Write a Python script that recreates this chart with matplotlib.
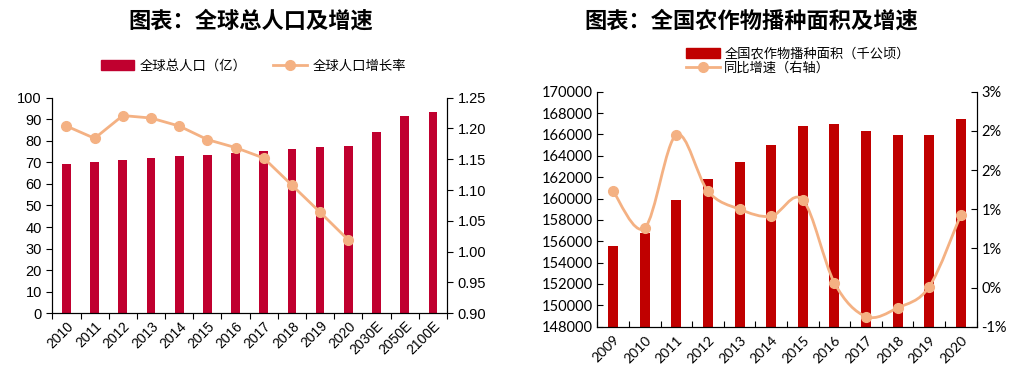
import matplotlib.pyplot as plt
import numpy as np
from matplotlib.path import Path
from matplotlib.patches import PathPatch
from matplotlib.lines import Line2D
from matplotlib.patches import Patch

plt.rcParams['font.family'] = ['Liberation Sans', 'Noto Sans CJK SC', 'DejaVu Sans']

# Left chart data
pop_years = ['2010', '2011', '2012', '2013', '2014', '2015', '2016', '2017',
             '2018', '2019', '2020', '2030E', '2050E', '2100E']
pop_total = [69.2, 70.0, 71.0, 71.9, 72.8, 73.4, 74.3, 75.3, 76.1, 77.0, 77.7,
             83.9, 91.4, 93.4]
pop_growth = [1.204, 1.184, 1.221, 1.217, 1.204, 1.182, 1.169, 1.152, 1.108,
              1.064, 1.019]

# Right chart data
crop_years = ['2009', '2010', '2011', '2012', '2013', '2014', '2015', '2016',
              '2017', '2018', '2019', '2020']
crop_area = [155600, 156800, 159900, 161800, 163450, 164990, 166820, 166940,
             166350, 165900, 165930, 167490]
crop_growth = [1.23, 0.76, 1.95, 1.23, 1.00, 0.91, 1.12, 0.06, -0.37, -0.26,
               0.01, 0.93]

bar_red = '#C0002F'
bar_red2 = '#C00000'
line_orange = '#F4B183'
cjk = ['Noto Sans CJK SC', 'DejaVu Sans']

fig = plt.figure(figsize=(10.2, 3.9), dpi=100)

# ---------- left chart ----------
ax1 = fig.add_axes([0.0513, 0.1967, 0.3869, 0.5528])
x = np.arange(len(pop_years))
ax1.bar(x, pop_total, width=0.31, color=bar_red, zorder=2)
ax1.set_xlim(-0.5, len(pop_years) - 0.5)
ax1.set_ylim(0, 100)
ax1.set_yticks(np.arange(0, 101, 10))
ax1.set_xticks(np.arange(-0.5, len(pop_years), 1.0))
ax1.set_xticklabels([])
ax1.set_xticks(x, minor=True)
ax1.set_xticklabels(pop_years, minor=True, rotation=45, ha='right',
                    rotation_mode='anchor', fontsize=10)
ax1.tick_params(axis='x', which='minor', length=0, pad=4)
ax1.tick_params(axis='x', which='major', direction='out', length=4)
ax1.tick_params(axis='y', direction='out', length=4, labelsize=10.5)
ax1.spines['top'].set_visible(False)

ax1r = ax1.twinx()
ax1r.plot(x[:len(pop_growth)], pop_growth, color=line_orange, lw=2,
          marker='o', ms=7, zorder=3)
ax1r.set_ylim(0.90, 1.25)
ax1r.set_yticks(np.arange(0.90, 1.251, 0.05))
ax1r.yaxis.set_major_formatter(plt.FormatStrFormatter('%.2f'))
ax1r.tick_params(axis='y', direction='out', length=4, labelsize=10.5)
ax1r.spines['top'].set_visible(False)

fig.text(0.246, 0.945, '图表：全球总人口及增速', ha='center', va='center',
         fontsize=16, fontweight='bold', family=cjk)

h1 = [Patch(color=bar_red),
      Line2D([], [], color=line_orange, lw=2, marker='o', ms=7)]
fig.legend(h1, ['全球总人口（亿）', '全球人口增长率'], loc='center',
           bbox_to_anchor=(0.2485, 0.8315), ncol=2, frameon=False,
           prop={'family': cjk, 'size': 9.6}, handlelength=2.5,
           handletextpad=0.4, columnspacing=2.0)

# ---------- right chart ----------
ax2 = fig.add_axes([0.5856, 0.1623, 0.3719, 0.6026])
x2 = np.arange(len(crop_years))
ax2.bar(x2, crop_area, width=0.32, color=bar_red2, zorder=2)
ax2.set_xlim(-0.5, len(crop_years) - 0.5)
ax2.set_ylim(148000, 170000)
ax2.set_yticks(np.arange(148000, 170001, 2000))
ax2.set_xticks(np.arange(-0.5, len(crop_years), 1.0))
ax2.set_xticklabels([])
ax2.set_xticks(x2, minor=True)
ax2.set_xticklabels(crop_years, minor=True, rotation=45, ha='right',
                    rotation_mode='anchor', fontsize=10, family='Lato')
ax2.tick_params(axis='x', which='minor', length=0, pad=5)
ax2.tick_params(axis='x', which='major', direction='in', length=4)
ax2.tick_params(axis='y', direction='in', length=4, labelsize=10.5)
for lab in ax2.get_yticklabels():
    lab.set_family('Lato')
ax2.spines['top'].set_visible(False)

ax2r = ax2.twinx()
ax2r.set_ylim(-0.5, 2.5)
ax2r.set_yticks(np.arange(-0.5, 2.51, 0.5))
ax2r.set_yticklabels(['-1%', '0%', '1%', '1%', '2%', '2%', '3%'],
                     family='Lato', fontsize=10.5)
ax2r.tick_params(axis='y', direction='in', length=4)
ax2r.spines['top'].set_visible(False)

# smoothed line (Catmull-Rom as cubic Bezier segments)
pts = np.column_stack([x2, crop_growth]).astype(float)
verts = [pts[0]]
codes = [Path.MOVETO]
for i in range(len(pts) - 1):
    p0 = pts[i - 1] if i > 0 else pts[i]
    p1 = pts[i]
    p2 = pts[i + 1]
    p3 = pts[i + 2] if i + 2 < len(pts) else pts[i + 1]
    c1 = p1 + (p2 - p0) / 6.0
    c2 = p2 - (p3 - p1) / 6.0
    verts += [c1, c2, p2]
    codes += [Path.CURVE4] * 3
ax2r.add_patch(PathPatch(Path(verts, codes), fill=False, edgecolor=line_orange,
                         lw=2, zorder=3))
ax2r.plot(x2, crop_growth, ls='none', marker='o', ms=7, color=line_orange,
          zorder=4)

fig.text(0.737, 0.945, '图表：全国农作物播种面积及增速', ha='center', va='center',
         fontsize=16, fontweight='bold', family=cjk)

h2 = [Patch(color=bar_red2),
      Line2D([], [], color=line_orange, lw=2, marker='o', ms=7)]
fig.legend(h2, ['全国农作物播种面积（千公顷）', '同比增速（右轴）'], loc='upper left',
           bbox_to_anchor=(0.6725, 0.878), ncol=1, frameon=False,
           prop={'family': cjk, 'size': 9.5}, handlelength=2.6,
           handletextpad=0.3, labelspacing=0.1, borderaxespad=0,
           borderpad=0)

fig.savefig('out.png', dpi=100)
